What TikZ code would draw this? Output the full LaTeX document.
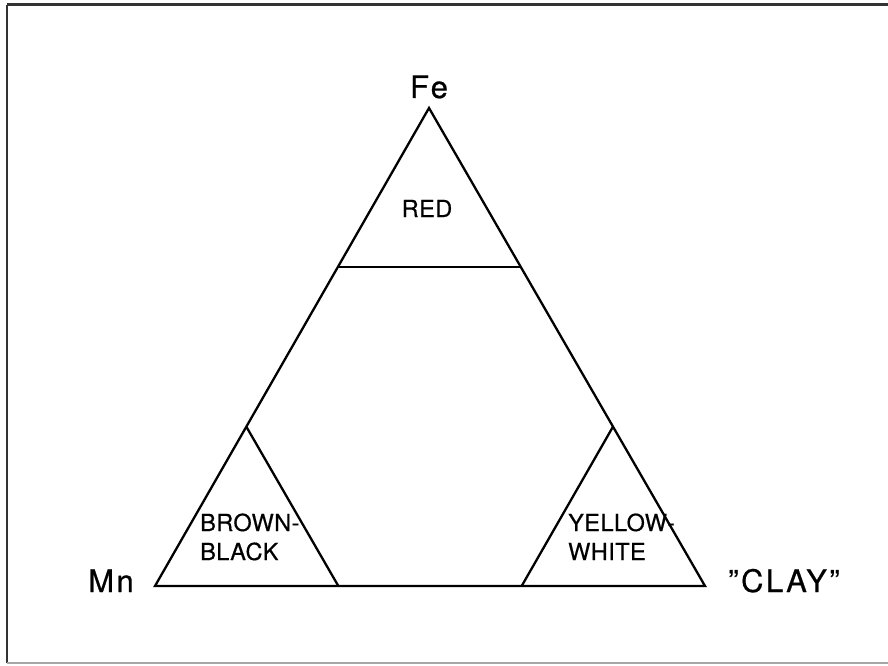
\documentclass[tikz,border=0pt]{standalone}
\usepackage{fontspec}
\setmainfont{TeX Gyre Heros}
\usetikzlibrary{calc}
\begin{document}
\begin{tikzpicture}[x=1pt,y=-1pt,
  edge/.style={line width=2.3pt,line join=miter},
  framel/.style={line width=2.2pt,draw=black!80},
  corner/.style={font=\fontsize{31}{31}\selectfont\addfontfeatures{LetterSpace=8,FakeBold=0.6},anchor=base,inner sep=0pt},
  field/.style={font=\fontsize{23.5}{29}\selectfont\addfontfeatures{LetterSpace=2,FakeBold=0.5},anchor=base west,inner sep=0pt,align=left}]
\useasboundingbox (0,0) rectangle (888,666);
% frame
\coordinate (ftr) at (888,5);
\coordinate (ftl) at (7,5);
\coordinate (fbl) at (7,663);
\coordinate (fbr) at (888,663);
\draw[framel,line width=3pt] (ftr) -- (ftl);
\draw[framel] (ftl) -- (fbl);
\draw[framel,draw=black!35,line width=1.5pt] (fbl) -- (fbr);
% main triangle
\coordinate (Fe) at (429,108);
\coordinate (Mn) at (155,586);
\coordinate (Cl) at (705,586);
\coordinate (fm) at ($(Fe)!1/3!(Mn)$);
\coordinate (fc) at ($(Fe)!1/3!(Cl)$);
\coordinate (mf) at ($(Mn)!1/3!(Fe)$);
\coordinate (mc) at ($(Mn)!1/3!(Cl)$);
\coordinate (cf) at ($(Cl)!1/3!(Fe)$);
\coordinate (cm) at ($(Cl)!1/3!(Mn)$);
\draw[edge] (Fe) -- (Mn) -- (Cl) -- cycle;
\draw[edge] (fm) -- (fc);
\draw[edge] (mf) -- (mc);
\draw[edge] (cf) -- (cm);
% labels
\node[corner] (lFe) at (429,98) {Fe};
\node[corner] (lMn) at (111,592) {Mn};
\node[corner] (lCl) at (784,592) {"CLAY"};
\node[field,anchor=base] (lRed) at (427,217) {RED};
\node[field] (lBB) at (200,560) {BROWN-\\BLACK};
\node[field] (lYW) at (568,560) {YELLOW-\\WHITE};
\end{tikzpicture}
\end{document}
